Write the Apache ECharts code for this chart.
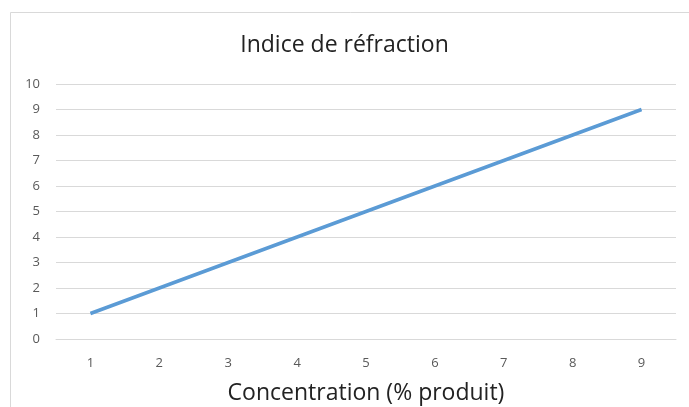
<!DOCTYPE html>
<html><head><meta charset="utf-8">
<script src="https://cdn.jsdelivr.net/npm/echarts@6/dist/echarts.min.js"></script>
<style>html,body{margin:0;padding:0;background:#fff}#c{width:689px;height:407px}</style>
</head><body><div id="c"></div>
<script>
const categories = ['1','2','3','4','5','6','7','8','9'];
const values = [1,2,3,4,5,6,7,8,9];
const titleText = 'Indice de réfraction';
const xAxisTitle = 'Concentration (% produit)';
const chart = echarts.init(document.getElementById('c'));
const font = '"Open Sans", "Noto Sans", sans-serif';
chart.setOption({
  animation:false,
  backgroundColor:'#fff',
  graphic:[{type:'rect',shape:{x:10.5,y:12.5,width:700,height:420},style:{fill:'none',stroke:'#d9d9d9',lineWidth:1},z:-1}],
  title:{text:titleText,left:'center',top:29,textStyle:{fontFamily:font,fontSize:23,fontWeight:'normal',color:'#222'}},
  grid:{left:56,right:13,top:84,bottom:68,containLabel:false,outerBoundsMode:'none'},
  xAxis:{type:'category',data:categories,boundaryGap:true,
    name:xAxisTitle,nameLocation:'middle',nameGap:43,
    nameTextStyle:{fontFamily:font,fontSize:23,color:'#222'},
    axisLine:{lineStyle:{color:'#d9d9d9',width:1}},axisTick:{show:false},
    axisLabel:{fontFamily:font,fontSize:13,color:'#595959',margin:18}},
  yAxis:{type:'value',min:0,max:10,interval:1,
    axisLine:{show:false},axisTick:{show:false},
    axisLabel:{fontFamily:font,fontSize:13,color:'#595959',margin:16},
    splitLine:{lineStyle:{color:'#d9d9d9',width:1}}},
  series:[{type:'line',data:values,symbol:'none',lineStyle:{color:'#5b9bd5',width:3.5},itemStyle:{color:'#5b9bd5'}}]
});
</script></body></html>
